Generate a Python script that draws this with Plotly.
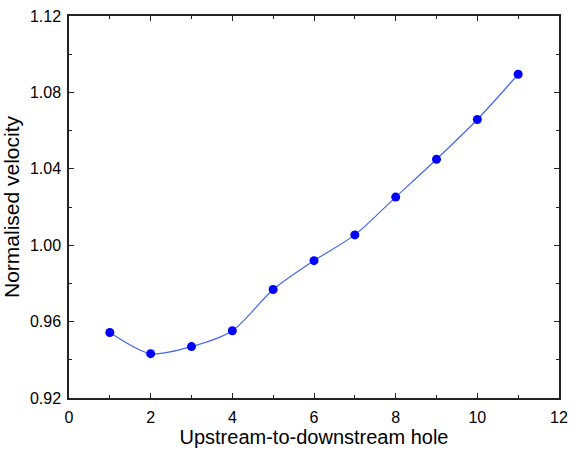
import plotly.graph_objects as go

# Hole index along the plate, upstream to downstream
hole = [1, 2, 3, 4, 5, 6, 7, 8, 9, 10, 11]
# Normalised velocity measured at each hole
velocity = [0.9543, 0.9432, 0.9469, 0.9552, 0.9768, 0.9919, 1.0054,
            1.0252, 1.0450, 1.0658, 1.0895]

x_ticks = [0, 2, 4, 6, 8, 10, 12]
y_ticks = [0.92, 0.96, 1.00, 1.04, 1.08, 1.12]

FONT = "Liberation Sans, Arial"

fig = go.Figure()
fig.add_trace(go.Scatter(
    x=hole, y=velocity, mode="lines",
    line=dict(color="#4466f2", width=1.2, shape="spline", smoothing=0.8),
    hoverinfo="skip", showlegend=False,
))
fig.add_trace(go.Scatter(
    x=hole, y=velocity, mode="markers",
    marker=dict(color="#0000ff", size=9),
    showlegend=False,
))

axis_common = dict(
    showgrid=False, zeroline=False,
    showline=True, linecolor="#222222", linewidth=1.5,
    mirror="ticks", ticks="inside", ticklen=5, tickwidth=1.3, tickcolor="#222222",
    tickfont=dict(family=FONT, size=16, color="#000000"),
)

fig.update_xaxes(
    range=[0, 12], tickvals=x_ticks, ticktext=[str(v) for v in x_ticks],
    minor=dict(dtick=1, ticks="inside", ticklen=3, tickwidth=1.2, tickcolor="#222222"),
    ticklabelstandoff=4,
    title=dict(text="Upstream-to-downstream hole", standoff=2,
               font=dict(family=FONT, size=20, color="#000000")),
    **axis_common,
)
fig.update_yaxes(
    range=[0.92, 1.12], tickvals=y_ticks, ticktext=[f"{v:.2f}" for v in y_ticks],
    minor=dict(dtick=0.02, ticks="inside", ticklen=3, tickwidth=1.2, tickcolor="#222222"),
    ticklabelstandoff=3,
    title=dict(text="Normalised velocity", standoff=6,
               font=dict(family=FONT, size=21, color="#000000")),
    **axis_common,
)

fig.update_layout(
    width=576, height=452,
    margin=dict(l=69, r=8, t=14, b=54),
    paper_bgcolor="white", plot_bgcolor="white",
)

fig.write_html("out.html")
